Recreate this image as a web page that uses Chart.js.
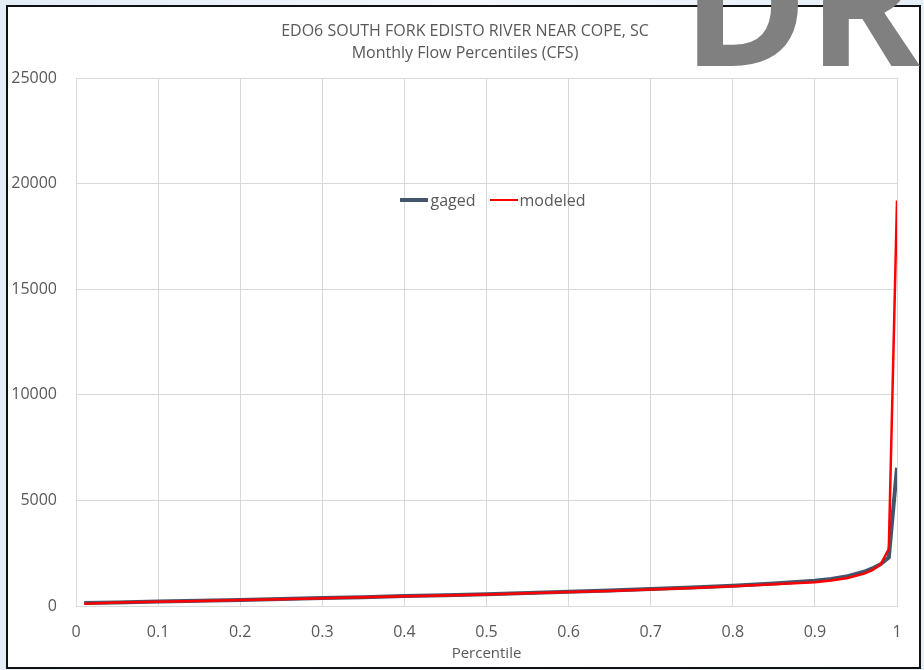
<!DOCTYPE html>
<html>
<head>
<meta charset="utf-8">
<script src="https://cdn.jsdelivr.net/npm/chart.js@4/dist/chart.umd.min.js"></script>
<style>
  html, body { margin: 0; padding: 0; }
  body {
    width: 924px; height: 670px; overflow: hidden; position: relative;
    background: linear-gradient(90deg, #e4ecf6 0%, #f3f7fb 50%, #e6eef7 100%);
    font-family: "Open Sans", sans-serif;
  }
  #frame {
    position: absolute; left: 6px; top: 5px; width: 915px; height: 664px;
    box-sizing: border-box; border: 2px solid #111; background: #fff; z-index: 0;
  }
  #wrap { position: absolute; left: 0; top: 0; width: 924px; height: 670px; z-index: 1; }
  #title {
    position: absolute; left: 0; top: 19px; width: 930px; z-index: 2;
    text-align: center; font-size: 16px; line-height: 22px; color: #595959;
  }
  #legend {
    position: absolute; top: 189px; left: 0; width: 924px; z-index: 2;
    display: flex; justify-content: center; gap: 14px; padding-left: 62px; box-sizing: border-box;
    font-size: 16px; color: #595959;
  }
  #legend .item { display: flex; align-items: center; }
  #legend .swatch { display: inline-block; width: 28px; margin-right: 2px; }
  #stamp {
    position: absolute; left: 682px; top: -85px; z-index: 3;
    font-family: "Open Sans", sans-serif; font-weight: 700; font-size: 170px; line-height: 1;
    color: #808080; white-space: nowrap;
  }
</style>
</head>
<body>
<div id="frame"></div>
<div id="wrap"><canvas id="flowChart" width="924" height="670"></canvas></div>
<div id="title"></div>
<div id="legend"></div>
<div id="stamp">DR</div>
<script>
// percentile positions
const percentiles = [0.01, 0.05, 0.10, 0.15, 0.20, 0.25, 0.30, 0.35, 0.40, 0.45, 0.50,
                     0.55, 0.60, 0.65, 0.70, 0.75, 0.80, 0.85, 0.90, 0.92, 0.94, 0.96,
                     0.97, 0.98, 0.99, 1.00];
const gagedFlow = [140, 170, 210, 245, 285, 330, 375, 420, 470, 510, 560,
                   610, 670, 730, 800, 880, 960, 1070, 1200, 1280, 1410, 1620,
                   1780, 1980, 2300, 6550];
const modeledFlow = [110, 160, 200, 240, 280, 320, 365, 410, 460, 500, 545,
                     600, 660, 715, 780, 850, 930, 1030, 1130, 1210, 1330, 1530,
                     1700, 1960, 2700, 19200];
const titleLines = ['EDO6 SOUTH FORK EDISTO RIVER NEAR COPE, SC', 'Monthly Flow Percentiles (CFS)'];

const toPoints = (vals) => percentiles.map((p, i) => ({ x: p, y: vals[i] }));
const gridColor = '#d9d9d9';
const textColor = '#595959';

const chart = new Chart(document.getElementById('flowChart').getContext('2d'), {
    type: 'line',
    data: {
        datasets: [{
            label: 'gaged',
            data: toPoints(gagedFlow),
            borderColor: '#44546a',
            borderWidth: 4,
            pointRadius: 0,
            tension: 0,
            order: 1
        }, {
            label: 'modeled',
            data: toPoints(modeledFlow),
            borderColor: '#ff0000',
            borderWidth: 2.5,
            pointRadius: 0,
            tension: 0,
            order: 0
        }]
    },
    options: {
        responsive: false,
        animation: false,
        layout: { padding: { top: 78, right: 27, bottom: 5, left: 0 } },
        scales: {
            x: {
                type: 'linear',
                min: 0,
                max: 1,
                ticks: {
                    stepSize: 0.1,
                    padding: 17,
                    color: textColor,
                    font: { family: 'Open Sans', size: 16 },
                    callback: (v) => String(Number(v.toFixed(1)))
                },
                grid: { color: gridColor, drawTicks: false },
                border: { color: gridColor },
                title: {
                    display: true,
                    text: 'Percentile',
                    color: textColor,
                    font: { family: 'Open Sans', size: 15 },
                    padding: { top: 0, bottom: 2 }
                },
                afterFit: (scale) => { scale.height = 59; }
            },
            y: {
                min: 0,
                max: 25000,
                ticks: {
                    stepSize: 5000,
                    padding: 19,
                    color: textColor,
                    font: { family: 'Open Sans', size: 16 },
                    callback: (v) => String(v)
                },
                grid: { color: gridColor, drawTicks: false },
                border: { color: gridColor },
                afterFit: (scale) => { scale.width = 76; }
            }
        },
        plugins: {
            legend: { display: false },
            tooltip: { enabled: false },
            title: { display: false }
        }
    }
});

// title and legend as page text, placed like the original
const titleBox = document.getElementById('title');
titleLines.forEach((line) => {
    const d = document.createElement('div');
    d.textContent = line;
    titleBox.appendChild(d);
});

const legendBox = document.getElementById('legend');
chart.data.datasets.forEach((ds) => {
    const item = document.createElement('span');
    item.className = 'item';
    const sw = document.createElement('span');
    sw.className = 'swatch';
    sw.style.borderTop = ds.borderWidth + 'px solid ' + ds.borderColor;
    item.appendChild(sw);
    item.appendChild(document.createTextNode(ds.label));
    legendBox.appendChild(item);
});
</script>
</body>
</html>
